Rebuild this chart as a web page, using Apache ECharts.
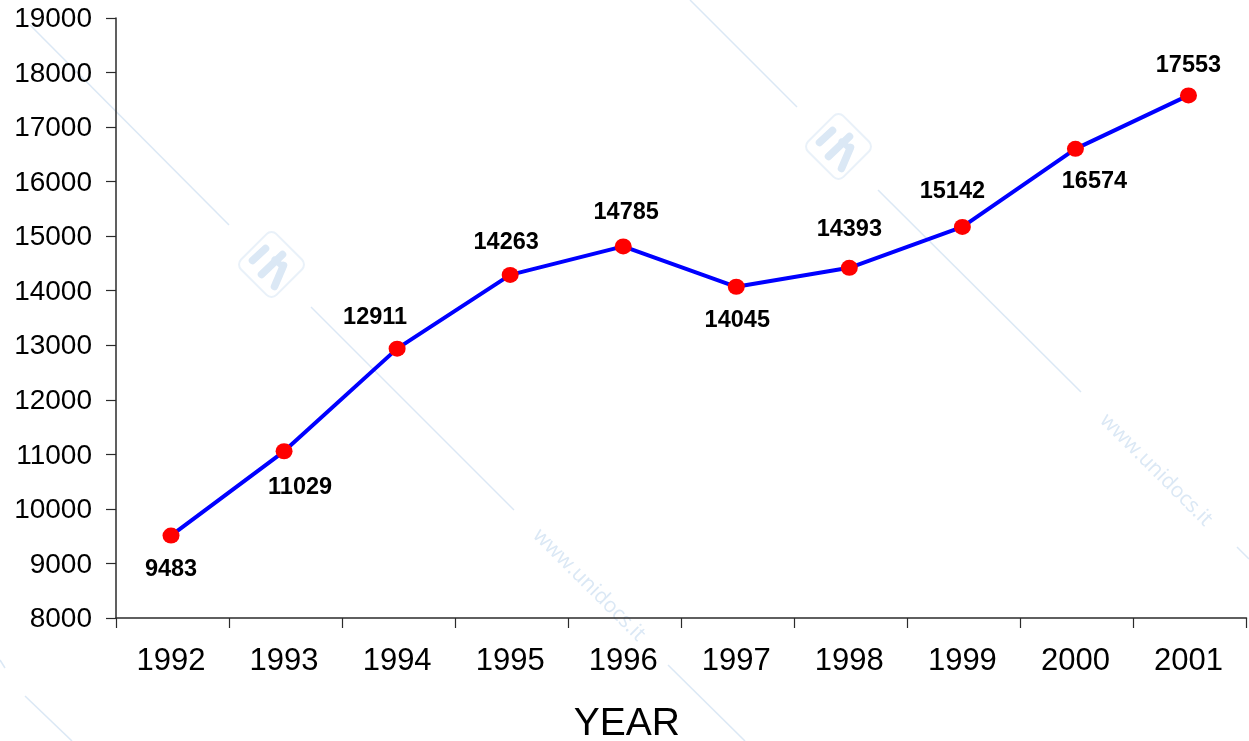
<!DOCTYPE html>
<html>
<head>
<meta charset="utf-8">
<style>html,body{margin:0;padding:0;background:#fff}#chart{width:1249px;height:741px}</style>
<script src="https://cdn.jsdelivr.net/npm/echarts@6/dist/echarts.min.js"></script>
</head>
<body>
<div id="chart"></div>
<script>
// Yearly totals, 1992-2001
const years = ['1992','1993','1994','1995','1996','1997','1998','1999','2000','2001'];
const totals = [9483,11029,12911,14263,14785,14045,14393,15142,16574,17553];

// Hand placement of each value label relative to its point
const labelOffsets = [[0,34],[16,36],[-22,-31],[-4,-32],[3,-34],[1,34],[0,-38],[-10,-35],[19,33],[0,-30]];

const FONT = '"Liberation Sans", Arial, sans-serif';
const AXIS = '#2b2b2b';
const WM = '#dbe8f5';

// Faint diagonal rules of the background watermark
const wmLines = [[30,25,229,225],[690,0,797,107],[878,190,1081,392],[311,307,514,510],
  [1237,547,1249,559],[668,665,745,741],[25,696,72,741],[0,660,5,668]];
const wmTexts = [[589,585],[1156,470]];
const wmLogos = [[271.5,264.5],[838.5,146.5]];

const wmGraphics = [];
wmLines.forEach(l => wmGraphics.push({type:'line',silent:true,z:-1,
  shape:{x1:l[0],y1:l[1],x2:l[2],y2:l[3]},style:{stroke:WM,lineWidth:1.5}}));
wmTexts.forEach(t => wmGraphics.push({type:'text',silent:true,z:-1,x:t[0],y:t[1],rotation:-Math.PI/4,
  style:{text:'www.unidocs.it',fill:WM,font:'21px "Open Sans", sans-serif',align:'center',verticalAlign:'middle'}}));
wmLogos.forEach(p => wmGraphics.push({type:'group',silent:true,z:-1,x:p[0],y:p[1],children:[
  {type:'rect',rotation:Math.PI/4,shape:{x:-25,y:-25,width:50,height:50,r:7},style:{fill:'#fff',stroke:'#e9f1f9',lineWidth:2}},
  {type:'line',shape:{x1:-19,y1:-4,x2:-6,y2:-16},style:{stroke:WM,lineWidth:7.5,lineCap:'round'}},
  {type:'line',shape:{x1:-10,y1:10,x2:11,y2:-10},style:{stroke:WM,lineWidth:7.5,lineCap:'round'}},
  {type:'line',shape:{x1:3,y1:-5,x2:11,y2:2},style:{stroke:WM,lineWidth:6,lineCap:'round'}},
  {type:'line',shape:{x1:12,y1:1,x2:3,y2:22},style:{stroke:WM,lineWidth:7.5,lineCap:'round'}}
]}));

const chart = echarts.init(document.getElementById('chart'), null, {renderer:'canvas'});
chart.setOption({
  animation:false,
  backgroundColor:'#fff',
  graphic:wmGraphics,
  // First grid carries the frame and ticks, second the line and its labels
  grid:[
    {left:116,top:18,width:1130.5,height:600,outerBoundsMode:'none'},
    {left:114.5,top:16.5,width:1130.5,height:600,outerBoundsMode:'none'}
  ],
  xAxis:[
    {type:'category',gridIndex:0,data:years,boundaryGap:true,
      axisLine:{lineStyle:{color:AXIS,width:1.5}},
      axisTick:{show:true,length:10,alignWithLabel:false,lineStyle:{color:AXIS,width:1.2}},
      axisLabel:{show:false},splitLine:{show:false}},
    {type:'category',gridIndex:1,data:years,boundaryGap:true,
      name:'YEAR',nameLocation:'middle',nameGap:88,
      nameTextStyle:{fontFamily:FONT,fontSize:39,color:'#000',padding:[0,106,0,0]},
      axisLine:{show:false},axisTick:{show:false},
      axisLabel:{fontFamily:FONT,fontSize:31,color:'#000',margin:29,interval:0},
      splitLine:{show:false}}
  ],
  yAxis:[
    {type:'value',gridIndex:0,min:8000,max:19000,interval:1000,
      axisLine:{show:true,lineStyle:{color:AXIS,width:1.5}},
      axisTick:{show:true,length:10,lineStyle:{color:AXIS,width:1.2}},
      axisLabel:{margin:24,formatter:v=>'{n|'+v+'}',
        rich:{n:{fontFamily:FONT,fontSize:28,color:'#000',padding:[3,0,0,0]}}},
      splitLine:{show:false}},
    {type:'value',gridIndex:1,min:8000,max:19000,interval:1000,
      axisLine:{show:false},axisTick:{show:false},axisLabel:{show:false},splitLine:{show:false}}
  ],
  series:[{
    type:'line',xAxisIndex:1,yAxisIndex:1,
    data:totals.map((v,i)=>({value:v,label:{offset:labelOffsets[i]}})),
    symbol:'circle',symbolSize:[17,16],
    lineStyle:{color:'#0000ff',width:4},
    itemStyle:{color:'#ff0000'},
    label:{show:true,position:'inside',fontFamily:FONT,fontSize:23.5,fontWeight:'bold',color:'#000'}
  }]
});
</script>
</body>
</html>
